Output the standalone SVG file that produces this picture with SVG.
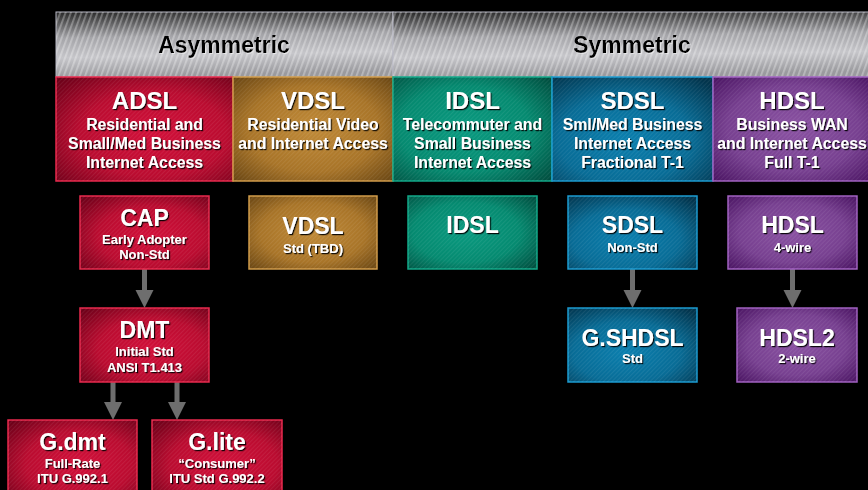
<svg xmlns="http://www.w3.org/2000/svg" width="868" height="490" viewBox="0 0 868 490">
<defs>
  <linearGradient id="hdr" x1="0" y1="0" x2="0.1" y2="1">
    <stop offset="0" stop-color="#262626"/>
    <stop offset="0.4" stop-color="#a4a4a8"/>
    <stop offset="0.7" stop-color="#c6c6ca"/>
    <stop offset="1" stop-color="#9a9a9e"/>
  </linearGradient>
  <pattern id="stripes" width="5" height="5" patternUnits="userSpaceOnUse" patternTransform="rotate(20)">
    <rect width="1.8" height="5" fill="#ffffff" opacity="0.3"/>
  </pattern>
  <pattern id="tex" width="3" height="3" patternUnits="userSpaceOnUse" patternTransform="rotate(45)">
    <rect width="1" height="3" fill="#ffffff" opacity="0.07"/>
  </pattern>
  <radialGradient id="gRed" cx="0.55" cy="0.55" r="0.75">
    <stop offset="0" stop-color="#d2103a"/>
    <stop offset="0.55" stop-color="#ba0c30"/>
    <stop offset="1" stop-color="#6a0018"/>
  </radialGradient>
  <radialGradient id="gGold" cx="0.5" cy="0.5" r="0.75">
    <stop offset="0" stop-color="#c08a38"/>
    <stop offset="0.55" stop-color="#a87428"/>
    <stop offset="1" stop-color="#5e3e10"/>
  </radialGradient>
  <radialGradient id="gTeal" cx="0.45" cy="0.5" r="0.75">
    <stop offset="0" stop-color="#0a9a80"/>
    <stop offset="0.55" stop-color="#058a70"/>
    <stop offset="1" stop-color="#00483a"/>
  </radialGradient>
  <radialGradient id="gBlue" cx="0.45" cy="0.6" r="0.75">
    <stop offset="0" stop-color="#0b7fae"/>
    <stop offset="0.55" stop-color="#086c96"/>
    <stop offset="1" stop-color="#02344c"/>
  </radialGradient>
  <radialGradient id="gPurp" cx="0.5" cy="0.5" r="0.75">
    <stop offset="0" stop-color="#8a52a2"/>
    <stop offset="0.55" stop-color="#774090"/>
    <stop offset="1" stop-color="#420c5a"/>
  </radialGradient>
  <filter id="sh" x="-10%" y="-20%" width="130%" height="150%">
    <feDropShadow dx="1.2" dy="1.2" stdDeviation="0.6" flood-color="#000" flood-opacity="0.9"/>
  </filter>
  <filter id="shl" x="-10%" y="-20%" width="130%" height="150%">
    <feDropShadow dx="1" dy="1" stdDeviation="0.6" flood-color="#ffffff" flood-opacity="0.5"/>
  </filter>
</defs>
<style>
  text { font-family: "Liberation Sans", Arial, sans-serif; font-weight: bold; text-anchor: middle; fill: #ffffff; filter: url(#sh); }
  .hd { fill: #000000; font-size: 23px; filter: url(#shl); }
  .ct { font-size: 24px; }
  .cs { font-size: 15.8px; }
  .nt { font-size: 23px; }
  .ns { font-size: 13px; }
  .tex { fill: url(#tex); }
  .red { fill: url(#gRed); stroke: #e8284c; stroke-width: 1.5; }
  .gold { fill: url(#gGold); stroke: #d09a48; stroke-width: 1.5; }
  .teal { fill: url(#gTeal); stroke: #10a888; stroke-width: 1.5; }
  .blue { fill: url(#gBlue); stroke: #1a9ad0; stroke-width: 1.5; }
  .purp { fill: url(#gPurp); stroke: #a060c0; stroke-width: 1.5; }
  .shaft { stroke: #6e6e6e; stroke-width: 5; }
  .head { fill: #6e6e6e; }
</style>
<rect width="868" height="490" fill="#000000"/>

<g id="header-asymmetric">
  <rect x="56" y="12" width="337" height="65" fill="url(#hdr)" stroke="#b8b8c4" stroke-width="1"/>
  <rect x="56" y="12" width="337" height="65" fill="url(#stripes)"/>
  <text class="hd" x="224" y="53">Asymmetric</text>
</g>
<g id="header-symmetric">
  <rect x="393" y="12" width="480" height="65" fill="url(#hdr)" stroke="#b8b8c4" stroke-width="1"/>
  <rect x="393" y="12" width="480" height="65" fill="url(#stripes)"/>
  <text class="hd" x="632" y="53">Symmetric</text>
</g>

<g id="cat-adsl">
  <rect class="red" x="56" y="77" width="177" height="104"/>
  <rect class="tex" x="56" y="77" width="177" height="104"/>
  <text class="ct" x="144.5" y="109">ADSL</text>
  <text class="cs" x="144.5" y="130">Residential and</text>
  <text class="cs" x="144.5" y="149">Small/Med Business</text>
  <text class="cs" x="144.5" y="168">Internet Access</text>
</g>
<g id="cat-vdsl">
  <rect class="gold" x="233" y="77" width="160" height="104"/>
  <rect class="tex" x="233" y="77" width="160" height="104"/>
  <text class="ct" x="313" y="109">VDSL</text>
  <text class="cs" x="313" y="130">Residential Video</text>
  <text class="cs" x="313" y="149">and Internet Access</text>
</g>
<g id="cat-idsl">
  <rect class="teal" x="393" y="77" width="159" height="104"/>
  <rect class="tex" x="393" y="77" width="159" height="104"/>
  <text class="ct" x="472.5" y="109">IDSL</text>
  <text class="cs" x="472.5" y="130">Telecommuter and</text>
  <text class="cs" x="472.5" y="149">Small Business</text>
  <text class="cs" x="472.5" y="168">Internet Access</text>
</g>
<g id="cat-sdsl">
  <rect class="blue" x="552" y="77" width="161" height="104"/>
  <rect class="tex" x="552" y="77" width="161" height="104"/>
  <text class="ct" x="632.5" y="109">SDSL</text>
  <text class="cs" x="632.5" y="130">Sml/Med Business</text>
  <text class="cs" x="632.5" y="149">Internet Access</text>
  <text class="cs" x="632.5" y="168">Fractional T-1</text>
</g>
<g id="cat-hdsl">
  <rect class="purp" x="713" y="77" width="160" height="104"/>
  <rect class="tex" x="713" y="77" width="160" height="104"/>
  <text class="ct" x="792" y="109">HDSL</text>
  <text class="cs" x="792" y="130">Business WAN</text>
  <text class="cs" x="792" y="149">and Internet Access</text>
  <text class="cs" x="792" y="168">Full T-1</text>
</g>

<g id="connectors">
  <line class="shaft" x1="144.5" y1="269" x2="144.5" y2="292"/>
  <polygon class="head" points="135.5,290 153.5,290 144.5,308"/>
  <line class="shaft" x1="113" y1="382" x2="113" y2="404"/>
  <polygon class="head" points="104,402 122,402 113,420"/>
  <line class="shaft" x1="177" y1="382" x2="177" y2="404"/>
  <polygon class="head" points="168,402 186,402 177,420"/>
  <line class="shaft" x1="632.5" y1="269" x2="632.5" y2="292"/>
  <polygon class="head" points="623.5,290 641.5,290 632.5,308"/>
  <line class="shaft" x1="792.5" y1="269" x2="792.5" y2="292"/>
  <polygon class="head" points="783.5,290 801.5,290 792.5,308"/>
</g>

<g id="node-cap">
  <rect class="red" x="80" y="196" width="129" height="73"/>
  <rect class="tex" x="80" y="196" width="129" height="73"/>
  <text class="nt" x="144.5" y="226">CAP</text>
  <text class="ns" x="144.5" y="244">Early Adopter</text>
  <text class="ns" x="144.5" y="259">Non-Std</text>
</g>
<g id="node-dmt">
  <rect class="red" x="80" y="308" width="129" height="74"/>
  <rect class="tex" x="80" y="308" width="129" height="74"/>
  <text class="nt" x="144.5" y="338">DMT</text>
  <text class="ns" x="144.5" y="356">Initial Std</text>
  <text class="ns" x="144.5" y="372">ANSI T1.413</text>
</g>
<g id="node-gdmt">
  <rect class="red" x="8" y="420" width="129" height="80"/>
  <rect class="tex" x="8" y="420" width="129" height="80"/>
  <text class="nt" x="72.5" y="450">G.dmt</text>
  <text class="ns" x="72.5" y="468">Full-Rate</text>
  <text class="ns" x="72.5" y="483">ITU G.992.1</text>
</g>
<g id="node-glite">
  <rect class="red" x="152" y="420" width="130" height="80"/>
  <rect class="tex" x="152" y="420" width="130" height="80"/>
  <text class="nt" x="217" y="450">G.lite</text>
  <text class="ns" x="217" y="468">“Consumer”</text>
  <text class="ns" x="217" y="483">ITU Std G.992.2</text>
</g>
<g id="node-vdsl">
  <rect class="gold" x="249" y="196" width="128" height="73"/>
  <rect class="tex" x="249" y="196" width="128" height="73"/>
  <text class="nt" x="313" y="234">VDSL</text>
  <text class="ns" x="313" y="253">Std (TBD)</text>
</g>
<g id="node-idsl">
  <rect class="teal" x="408" y="196" width="129" height="73"/>
  <rect class="tex" x="408" y="196" width="129" height="73"/>
  <text class="nt" x="472.5" y="233">IDSL</text>
</g>
<g id="node-sdsl">
  <rect class="blue" x="568" y="196" width="129" height="73"/>
  <rect class="tex" x="568" y="196" width="129" height="73"/>
  <text class="nt" x="632.5" y="233">SDSL</text>
  <text class="ns" x="632.5" y="252">Non-Std</text>
</g>
<g id="node-gshdsl">
  <rect class="blue" x="568" y="308" width="129" height="74"/>
  <rect class="tex" x="568" y="308" width="129" height="74"/>
  <text class="nt" x="632.5" y="346">G.SHDSL</text>
  <text class="ns" x="632.5" y="363">Std</text>
</g>
<g id="node-hdsl">
  <rect class="purp" x="728" y="196" width="129" height="73"/>
  <rect class="tex" x="728" y="196" width="129" height="73"/>
  <text class="nt" x="792.5" y="233">HDSL</text>
  <text class="ns" x="792.5" y="252">4-wire</text>
</g>
<g id="node-hdsl2">
  <rect class="purp" x="737" y="308" width="120" height="74"/>
  <rect class="tex" x="737" y="308" width="120" height="74"/>
  <text class="nt" x="797" y="346">HDSL2</text>
  <text class="ns" x="797" y="363">2-wire</text>
</g>
</svg>
